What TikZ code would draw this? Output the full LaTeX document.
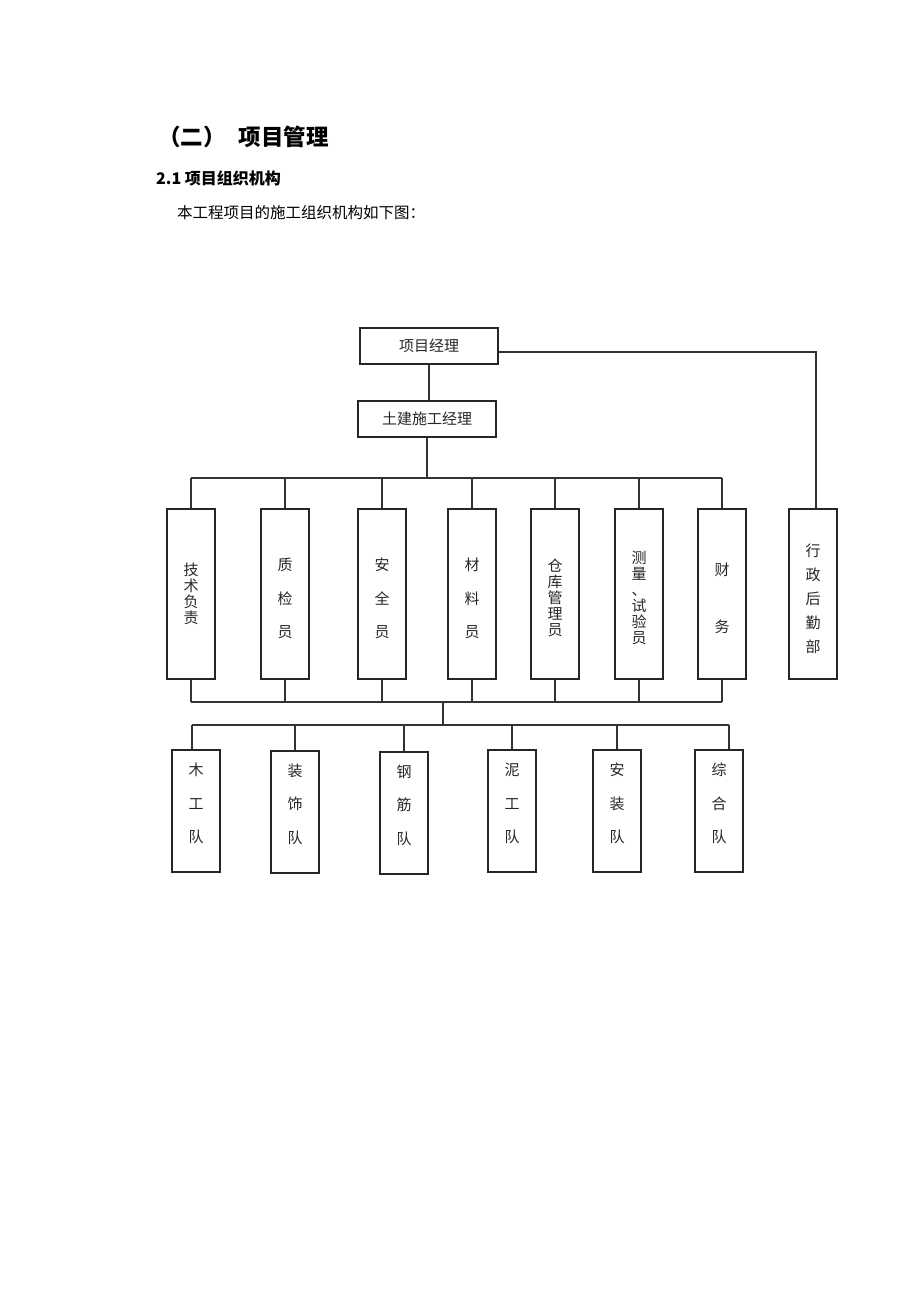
\documentclass[tikz,border=0pt]{standalone}
\usepackage{fontspec}
\newfontfamily\cjk{Noto Sans CJK SC}
\begin{document}
\begin{tikzpicture}[x=1pt,y=-1pt,
  box/.style={draw=black!85, line width=1.4pt, inner sep=0pt},
  tall/.style={box, minimum width=48pt, minimum height=170pt},
  team/.style={box, minimum width=48pt, minimum height=122pt},
  lbl/.style={font=\cjk\fontsize{15}{16}\selectfont, align=center, inner sep=0pt, text=black!85},
  wire/.style={draw=black!80, line width=1.4pt}]
\useasboundingbox (0,0) rectangle (920,1302);

% headings
\node[anchor=west, inner sep=0pt, font=\cjk\bfseries\fontsize{22.5}{24}\selectfont] (title) at (158,137) {（二）\hspace{13pt}项目管理};
\node[anchor=west, inner sep=0pt, font=\cjk\bfseries\fontsize{16}{18}\selectfont] (sub) at (156,178) {2.1 项目组织机构};
\node[anchor=west, inner sep=0pt, font=\cjk\fontsize{15.5}{18}\selectfont] (intro) at (177,213) {本工程项目的施工组织机构如下图：};

% top boxes
\node[box, minimum width=138pt, minimum height=36pt, lbl] (pm) at (429,346) {项目经理};
\node[box, minimum width=138pt, minimum height=36pt, lbl] (cm) at (427,419) {土建施工经理};

% middle row
\node[tall] (m1) at (191,594) {};
\node[tall] (m2) at (285,594) {};
\node[tall] (m3) at (382,594) {};
\node[tall] (m4) at (472,594) {};
\node[tall] (m5) at (555,594) {};
\node[tall] (m6) at (639,594) {};
\node[tall] (m7) at (722,594) {};
\node[tall] (adm) at (813,594) {};

\node[lbl] (m1l) at (191,594) {技\\术\\负\\责};
\node[lbl] (m2l) at (285,598.5) {质\\[17.5pt]检\\[17.5pt]员};
\node[lbl] (m3l) at (382,598.5) {安\\[17.5pt]全\\[17.5pt]员};
\node[lbl] (m4l) at (472,598.5) {材\\[17.5pt]料\\[17.5pt]员};
\node[lbl] (m5l) at (555,597.5) {仓\\库\\管\\理\\员};
\node[lbl] (m6l) at (639,598) {测\\量\\、\\试\\验\\员};
\node[lbl] (m7l) at (722,598.5) {财\\[41pt]务};
\node[lbl] (adml) at (813,598.5) {行\\[8pt]政\\[8pt]后\\[8pt]勤\\[8pt]部};

% bottom row
\node[team] (t1) at (196,811) {};
\node[team] (t2) at (295,812) {};
\node[team] (t3) at (404,813) {};
\node[team] (t4) at (512,811) {};
\node[team] (t5) at (617,811) {};
\node[team] (t6) at (719,811) {};

\node[lbl] (t1l) at (196,803.5) {木\\[17.5pt]工\\[17.5pt]队};
\node[lbl] (t2l) at (295,804) {装\\[17.5pt]饰\\[17.5pt]队};
\node[lbl] (t3l) at (404,805) {钢\\[17.5pt]筋\\[17.5pt]队};
\node[lbl] (t4l) at (512,803.5) {泥\\[17.5pt]工\\[17.5pt]队};
\node[lbl] (t5l) at (617,803.5) {安\\[17.5pt]装\\[17.5pt]队};
\node[lbl] (t6l) at (719,803.5) {综\\[17.5pt]合\\[17.5pt]队};

% bus coordinates
\coordinate (bus1) at (427,478);
\coordinate (bus2) at (443,702);
\coordinate (bus3) at (443,725);
\coordinate (b3l) at (192,725);
\coordinate (b3r) at (729,725);
\coordinate (admx) at (816,352);

% connectors
\draw[wire] (pm.south) -- (pm.south |- cm.north);
\draw[wire] (pm.east |- admx) -- (admx) -- (admx |- adm.north);
\draw[wire] (cm.south) -- (cm.south |- bus1);
\draw[wire] (m1.north |- bus1) -- (m7.north |- bus1);
\foreach \m in {m1,m2,m3,m4,m5,m6,m7}{
  \draw[wire] (\m.north) -- (\m.north |- bus1);
  \draw[wire] (\m.south) -- (\m.south |- bus2);
}
\draw[wire] (m1.south |- bus2) -- (m7.south |- bus2);
\draw[wire] (bus2) -- (bus3);
\draw[wire] (b3l) -- (b3r);
\draw[wire] (b3l) -- (b3l |- t1.north);
\draw[wire] (t2.north |- bus3) -- (t2.north);
\draw[wire] (t3.north |- bus3) -- (t3.north);
\draw[wire] (t4.north |- bus3) -- (t4.north);
\draw[wire] (t5.north |- bus3) -- (t5.north);
\draw[wire] (b3r) -- (b3r |- t6.north);
\end{tikzpicture}
\end{document}
